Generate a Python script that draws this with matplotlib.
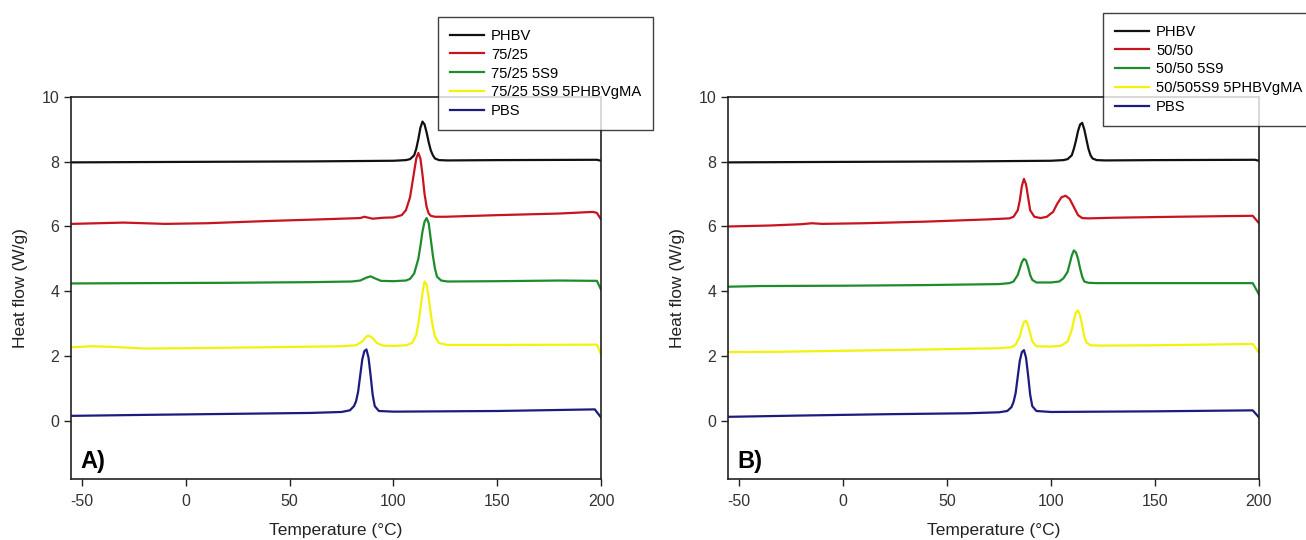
import matplotlib
matplotlib.use("Agg")
import matplotlib.pyplot as plt

plt.rcParams['font.family'] = ['Liberation Sans', 'DejaVu Sans']
plt.rcParams['axes.unicode_minus'] = False

# ---- panel A data (temperature in C, heat flow in W/g) ----
phbv_a_t = [-55, -20, 20, 60, 100, 106, 108, 110, 111, 112, 113, 114, 115, 116, 117, 118, 119, 120, 122, 126, 150, 198, 200]
phbv_a_q = [7.98, 7.99, 8.0, 8.01, 8.03, 8.05, 8.08, 8.2, 8.4, 8.7, 9.05, 9.24, 9.15, 8.9, 8.6, 8.35, 8.2, 8.1, 8.05, 8.04, 8.05, 8.06, 8.03]

red_a_t = [-55, -30, -10, 10, 40, 70, 84, 86, 88, 90, 95, 100, 104, 106, 108, 110, 111, 112, 113, 114, 115, 116, 117, 118, 120, 125, 150, 180, 196, 198, 200]
red_a_q = [6.08, 6.12, 6.08, 6.1, 6.17, 6.23, 6.26, 6.3, 6.27, 6.24, 6.27, 6.28, 6.35, 6.5, 6.9, 7.7, 8.1, 8.27, 8.1, 7.6, 7.0, 6.6, 6.4, 6.33, 6.3, 6.3, 6.35, 6.4, 6.45, 6.42, 6.22]

green_a_t = [-55, -20, 20, 60, 80, 84, 87, 89, 91, 94, 100, 106, 108, 110, 112, 113, 114, 115, 116, 117, 118, 119, 120, 121, 123, 126, 150, 180, 198, 200]
green_a_q = [4.24, 4.25, 4.26, 4.28, 4.3, 4.33, 4.42, 4.46, 4.4, 4.32, 4.31, 4.33, 4.38, 4.55, 5.0, 5.4, 5.85, 6.15, 6.26, 6.1, 5.6, 5.1, 4.7, 4.45, 4.33, 4.3, 4.31, 4.33, 4.32, 4.05]

yellow_a_t = [-55, -45, -35, -20, 0, 40, 75, 82, 85, 87, 88, 90, 92, 95, 100, 106, 109, 111, 112, 113, 114, 115, 116, 117, 118, 119, 120, 122, 126, 150, 198, 200]
yellow_a_q = [2.27, 2.3, 2.28, 2.23, 2.24, 2.27, 2.3, 2.33, 2.45, 2.6, 2.63, 2.55, 2.4, 2.32, 2.31, 2.33, 2.4, 2.65, 3.0, 3.45, 3.95, 4.3, 4.2, 3.8, 3.3, 2.9, 2.6, 2.4, 2.34, 2.34, 2.35, 2.05]

pbs_a_t = [-55, -20, 20, 60, 75, 79, 81, 82, 83, 84, 85, 86, 87, 88, 89, 90, 91, 93, 100, 150, 197, 200]
pbs_a_q = [0.15, 0.18, 0.21, 0.24, 0.27, 0.32, 0.45, 0.6, 0.9, 1.4, 1.9, 2.15, 2.2, 1.95, 1.4, 0.8, 0.45, 0.3, 0.28, 0.3, 0.35, 0.1]

# ---- panel B data ----
phbv_b_t = [-55, -20, 20, 60, 100, 106, 108, 110, 111, 112, 113, 114, 115, 116, 117, 118, 119, 120, 122, 126, 150, 198, 200]
phbv_b_q = [7.98, 7.99, 8.0, 8.01, 8.03, 8.05, 8.08, 8.2, 8.4, 8.65, 8.95, 9.15, 9.2, 9.0, 8.7, 8.4, 8.2, 8.1, 8.05, 8.04, 8.05, 8.06, 8.03]

red_b_t = [-55, -35, -20, -15, -10, 10, 40, 70, 80, 82, 84, 85, 86, 87, 88, 89, 90, 92, 95, 98, 101, 103, 105, 107, 109, 111, 113, 115, 118, 130, 160, 197, 200]
red_b_q = [6.0, 6.03, 6.07, 6.1, 6.08, 6.1, 6.15, 6.22, 6.25, 6.3, 6.5, 6.8, 7.25, 7.47, 7.3, 6.9, 6.5, 6.3, 6.26, 6.3, 6.45, 6.7, 6.9, 6.95, 6.85, 6.6, 6.35, 6.26, 6.25, 6.27, 6.3, 6.33, 6.1]

green_b_t = [-55, -40, 0, 40, 75, 80, 82, 84, 85, 86, 87, 88, 89, 90, 91, 93, 100, 104, 106, 108, 109, 110, 111, 112, 113, 114, 115, 116, 118, 122, 150, 197, 200]
green_b_q = [4.14, 4.16, 4.17, 4.19, 4.22, 4.25, 4.3, 4.5, 4.7, 4.9, 5.0, 4.95, 4.75, 4.5, 4.35, 4.27, 4.27, 4.3, 4.4, 4.6, 4.85, 5.1, 5.26, 5.2, 5.0, 4.7, 4.45, 4.3, 4.26, 4.25, 4.25, 4.25, 3.9]

yellow_b_t = [-55, -30, 0, 40, 75, 81, 83, 85, 86, 87, 88, 89, 90, 91, 93, 100, 105, 108, 110, 111, 112, 113, 114, 115, 116, 117, 119, 124, 150, 197, 200]
yellow_b_q = [2.12, 2.13, 2.16, 2.2, 2.24, 2.27, 2.35, 2.6, 2.85, 3.05, 3.09, 2.95, 2.7, 2.45, 2.3, 2.29, 2.32, 2.45, 2.8, 3.1, 3.35, 3.4, 3.25, 2.95, 2.6, 2.42, 2.33, 2.32, 2.33, 2.37, 2.1]

pbs_b_t = [-55, -20, 20, 60, 75, 79, 81, 82, 83, 84, 85, 86, 87, 88, 89, 90, 91, 93, 100, 150, 197, 200]
pbs_b_q = [0.12, 0.16, 0.2, 0.23, 0.26, 0.3, 0.42, 0.58, 0.85, 1.35, 1.85, 2.12, 2.18, 1.95, 1.4, 0.8, 0.45, 0.3, 0.27, 0.29, 0.32, 0.1]

labels_a = ['PHBV', '75/25', '75/25 5S9', '75/25 5S9 5PHBVgMA', 'PBS']
labels_b = ['PHBV', '50/50', '50/50 5S9', '50/505S9 5PHBVgMA', 'PBS']
colors = ['#111111', '#c8141e', '#1e8c2d', '#f2f20a', '#1c1c80']

yticks = [0, 2, 4, 6, 8, 10]
xticks = [-50, 0, 50, 100, 150, 200]

fig = plt.figure(figsize=(13.06, 5.40), dpi=100)
ax_a = fig.add_axes([0.0544, 0.113, 0.4058, 0.7074])
ax_b = fig.add_axes([0.5574, 0.113, 0.4066, 0.7074])

series_a = [(phbv_a_t, phbv_a_q), (red_a_t, red_a_q), (green_a_t, green_a_q), (yellow_a_t, yellow_a_q), (pbs_a_t, pbs_a_q)]
series_b = [(phbv_b_t, phbv_b_q), (red_b_t, red_b_q), (green_b_t, green_b_q), (yellow_b_t, yellow_b_q), (pbs_b_t, pbs_b_q)]

for ax, series, labels, tag, leg_xy in [(ax_a, series_a, labels_a, 'A)', (0.3354, 0.9685)),
                                        (ax_b, series_b, labels_b, 'B)', (0.8446, 0.976))]:
    for (t, q), lab, c in zip(series, labels, colors):
        ax.plot(t, q, color=c, lw=1.6, label=lab)
    ax.set_xlim(-55.3, 200)
    ax.set_ylim(-1.8, 10)
    ax.set_xticks(xticks)
    ax.set_yticks(yticks)
    ax.tick_params(direction='out', length=5, width=1, labelsize=11.5, colors='#222222', labelcolor='#333333')
    ax.tick_params(axis='x', pad=6)
    for s in ax.spines.values():
        s.set_linewidth(1.2)
        s.set_color('#222222')
    ax.set_xlabel('Temperature (°C)', fontsize=12.5, color='#222222', labelpad=10)
    ax.set_ylabel('Heat flow (W/g)', fontsize=12.5, color='#222222', labelpad=10)
    ax.text(0.017, 0.045, tag, transform=ax.transAxes, fontsize=17, fontweight='bold', va='center', ha='left')
    leg = fig.legend(*ax.get_legend_handles_labels(), loc='upper left', bbox_to_anchor=leg_xy,
                     borderaxespad=0, fontsize=10.6, frameon=True, fancybox=False, edgecolor='#111111',
                     handlelength=2.3, handletextpad=0.5, labelspacing=0.33, borderpad=0.8)
    leg.get_frame().set_linewidth(1.0)

fig.savefig('out.png', dpi=100)
